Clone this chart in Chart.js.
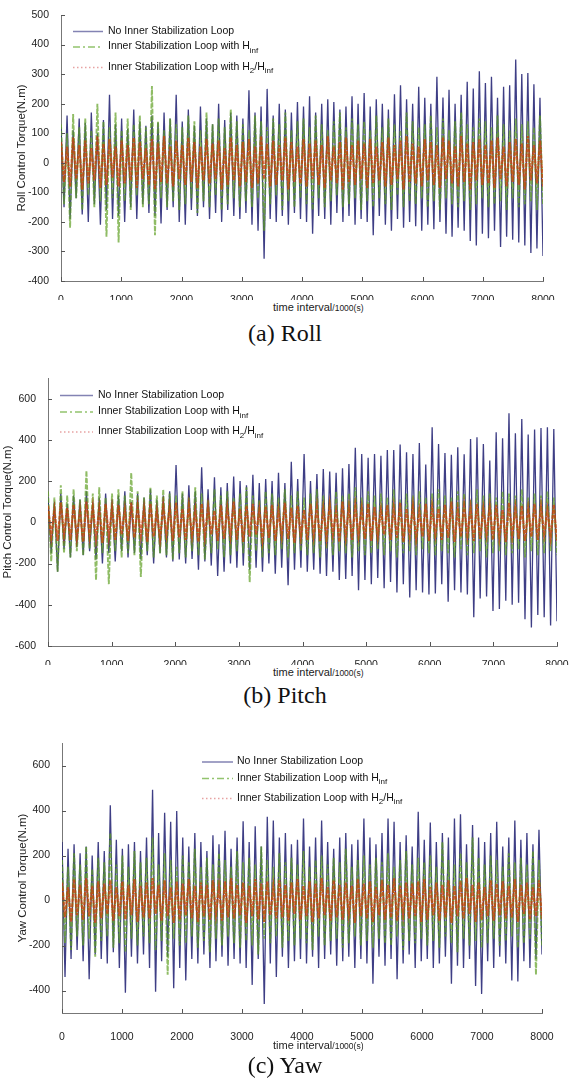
<!DOCTYPE html>
<html>
<head>
<meta charset="utf-8">
<script src="https://cdn.jsdelivr.net/npm/chart.js@4.4.1/dist/chart.umd.min.js"></script>
<style>
  html, body { margin:0; padding:0; background:#fff; }
  body { width:580px; height:1080px; position:relative; overflow:hidden; font-family:"Liberation Sans", Arial, sans-serif; }
  canvas { position:absolute; left:0; }
  .xt { position:absolute; left:273px; font-size:11px; line-height:14px; color:#222; white-space:nowrap; }
  .xt span { font-size:8.5px; }
  .cap { position:absolute; left:0; width:570px; text-align:center; font-family:"Liberation Serif", "Times New Roman", serif; font-size:24px; line-height:28px; color:#111; }
</style>
</head>
<body>
<canvas id="roll" width="580" height="300" style="top:0px"></canvas>
<canvas id="pitch" width="580" height="315" style="top:350px"></canvas>
<canvas id="yaw" width="580" height="330" style="top:720px"></canvas>

<div class="xt" style="top:300px">time interval<span>/1000(s)</span></div>
<div class="xt" style="top:665px">time interval<span>/1000(s)</span></div>
<div class="xt" style="top:1038px">time interval<span>/1000(s)</span></div>
<div class="cap" style="top:319px">(a) Roll</div>
<div class="cap" style="top:681px">(b) Pitch</div>
<div class="cap" style="top:1051px">(c) Yaw</div>

<script>
// ---- axis ticks ----
const xTicks = [0,1000,2000,3000,4000,5000,6000,7000,8000];
const rollTicks = [-400,-300,-200,-100,0,100,200,300,400,500];
const pitchTicks = [-600,-400,-200,0,200,400,600];
const yawTicks = [-400,-200,0,200,400,600];

// ---- legend labels (text, subscript flag) ----
const legendLabels = [
  [['No Inner Stabilization Loop']],
  [['Inner Stabilization Loop with H'], ['inf', 1]],
  [['Inner Stabilization Loop with H'], ['2', 1], ['/H'], ['inf', 1]]
];

// ---- signal extremes: one upper and one lower peak per ~100 samples ----
// (a) Roll
const rollBlueHi = [
  120,160,110,150,135,170,100,145,230,130,
  150,115,180,140,125,160,135,170,150,230,
  140,180,125,190,150,130,200,145,170,160,
  150,245,170,190,250,160,200,180,170,206,
  190,225,170,200,215,206,180,190,225,200,
  236,190,215,200,180,232,262,215,200,257,
  220,200,291,221,247,200,230,274,251,310,
  270,291,220,257,262,349,300,304,266,220];
const rollBlueLo = [
  -150,-190,-120,-175,-200,-140,-210,-160,-190,-180,
  -200,-150,-190,-140,-170,-180,-205,-160,-150,-200,
  -210,-160,-180,-150,-190,-170,-200,-160,-180,-190,
  -170,-210,-230,-325,-190,-200,-180,-210,-170,-190,
  -200,-240,-180,-190,-210,-170,-200,-180,-210,-190,
  -200,-245,-180,-210,-230,-190,-220,-200,-215,-230,
  -210,-225,-200,-240,-250,-220,-230,-265,-280,-240,
  -255,-230,-285,-250,-260,-270,-280,-305,-290,-315];
const rollGreenHi = [
  130,100,165,120,150,110,200,140,120,170,
  110,150,130,160,120,260,140,110,150,130,
  120,160,140,110,170,130,150,120,180,140,
  130,110,160,140,120,150,130,170,110,140,
  150,120,160,130,110,140,170,120,150,130,
  140,110,160,120,150,130,110,170,140,120,
  130,160,120,150,110,140,170,130,120,150,
  140,120,160,130,110,150,130,140,120,160];
const rollGreenLo = [
  -140,-220,-120,-160,-110,-150,-130,-250,-120,-270,
  -130,-160,-110,-150,-140,-245,-120,-150,-130,-160,
  -140,-120,-170,-130,-150,-110,-160,-140,-120,-150,
  -130,-150,-120,-230,-140,-110,-160,-130,-150,-120,
  -140,-160,-120,-150,-130,-110,-150,-140,-120,-160,
  -130,-150,-120,-140,-160,-110,-150,-130,-140,-120,
  -150,-130,-160,-120,-140,-150,-130,-160,-140,-120,
  -150,-140,-130,-160,-120,-150,-140,-130,-160,-140];
const rollRedHi = [
  70,55,85,60,75,50,90,65,80,55,
  75,60,85,70,50,80,65,90,55,75,
  60,85,70,55,80,65,75,50,85,60,
  70,80,55,90,65,75,60,85,70,55,
  80,65,75,60,90,55,70,85,60,75,
  65,80,55,70,85,60,75,90,65,55,
  80,70,60,85,75,55,90,65,70,80,
  60,75,85,55,70,80,65,90,60,75];
const rollRedLo = [
  -65,-80,-55,-90,-70,-60,-85,-75,-50,-80,
  -70,-60,-85,-55,-75,-90,-65,-70,-80,-55,
  -75,-65,-85,-60,-70,-55,-90,-75,-60,-80,
  -65,-85,-70,-55,-80,-75,-60,-90,-65,-70,
  -80,-55,-75,-85,-60,-70,-90,-65,-75,-55,
  -85,-70,-60,-80,-75,-55,-90,-65,-70,-80,
  -60,-75,-85,-55,-70,-80,-65,-90,-60,-75,
  -70,-85,-55,-80,-65,-75,-90,-60,-70,-80];

// (b) Pitch
const pitchBlueHi = [
  120,100,140,90,130,110,150,100,120,140,
  110,130,150,100,140,120,160,110,130,150,
  278,140,180,150,267,160,218,170,190,222,
  200,180,230,190,210,200,240,190,294,210,
  331,200,234,259,246,240,262,283,361,331,
  313,331,323,351,351,377,340,331,385,280,
  461,380,336,328,364,330,404,412,380,300,
  437,408,529,432,501,426,450,457,461,453];
const pitchBlueLo = [
  -150,-240,-130,-170,-120,-160,-140,-180,-200,-150,
  -190,-140,-170,-150,-180,-160,-200,-150,-170,-190,
  -180,-200,-178,-230,-190,-210,-260,-240,-200,-220,
  -210,-230,-220,-240,-200,-250,-220,-305,-230,-220,
  -240,-230,-250,-260,-240,-280,-275,-260,-330,-280,
  -300,-270,-320,-290,-340,-300,-365,-330,-340,-350,
  -345,-300,-385,-330,-340,-350,-460,-370,-360,-430,
  -420,-380,-400,-390,-470,-510,-450,-460,-500,-480];
const pitchGreenHi = [
  150,120,180,130,160,110,250,140,170,120,
  140,160,130,240,150,120,170,130,160,140,
  130,150,120,170,140,110,160,130,150,120,
  140,170,130,110,150,140,120,160,130,150,
  120,140,160,130,110,150,130,140,170,120,
  150,130,140,120,160,110,140,130,150,120,
  140,160,130,120,150,140,110,160,130,140,
  120,150,140,130,160,120,140,130,150,120];
const pitchGreenLo = [
  -190,-240,-150,-170,-140,-160,-130,-280,-150,-300,
  -140,-170,-150,-160,-265,-140,-170,-150,-160,-180,
  -150,-170,-140,-160,-180,-150,-130,-170,-160,-140,
  -150,-290,-140,-170,-150,-160,-130,-170,-150,-140,
  -160,-150,-170,-130,-160,-140,-150,-170,-140,-160,
  -150,-130,-160,-140,-170,-150,-140,-160,-130,-150,
  -160,-140,-150,-170,-130,-160,-150,-140,-170,-150,
  -140,-160,-150,-130,-170,-140,-160,-150,-140,-160];
const pitchRedHi = [
  80,60,95,70,85,55,100,75,65,90,
  70,85,60,95,75,65,90,55,80,70,
  95,65,80,60,90,75,55,85,70,100,
  65,80,90,60,75,85,55,95,70,80,
  60,90,75,65,85,55,100,70,80,65,
  90,75,60,85,70,95,65,80,55,90,
  75,65,85,100,60,80,70,90,65,75,
  85,60,95,70,80,65,90,75,60,85];
const pitchRedLo = [
  -70,-90,-60,-85,-75,-95,-65,-80,-100,-70,
  -85,-60,-90,-75,-65,-95,-70,-80,-60,-90,
  -75,-85,-65,-95,-70,-60,-90,-80,-65,-85,
  -95,-70,-60,-85,-75,-90,-65,-80,-100,-70,
  -85,-65,-90,-75,-60,-95,-70,-85,-65,-80,
  -90,-70,-60,-85,-75,-95,-65,-80,-70,-90,
  -60,-85,-75,-95,-70,-65,-90,-80,-60,-85,
  -75,-95,-65,-80,-90,-70,-85,-60,-75,-90];

// (c) Yaw
const yawBlueHi = [
  260,230,250,210,240,200,260,220,423,270,
  230,250,260,220,280,492,300,390,350,398,
  280,240,300,260,220,290,250,310,230,280,
  352,260,330,240,372,355,280,300,250,270,
  364,240,280,355,260,230,280,300,250,270,
  364,280,250,300,364,350,260,290,240,394,
  270,347,260,300,280,364,383,250,335,280,
  260,300,350,240,280,355,270,300,250,314];
const yawBlueLo = [
  -340,-260,-220,-270,-350,-240,-260,-280,-230,-300,
  -410,-250,-280,-240,-300,-405,-270,-250,-390,-300,
  -355,-260,-280,-240,-300,-270,-250,-290,-260,-280,
  -300,-375,-260,-460,-280,-340,-250,-300,-270,-260,
  -280,-250,-300,-260,-240,-290,-270,-250,-300,-260,
  -280,-370,-250,-290,-260,-350,-280,-240,-300,-270,
  -260,-300,-280,-250,-370,-290,-300,-260,-380,-415,
  -270,-300,-250,-280,-355,-360,-270,-300,-260,-240];
const yawGreenHi = [
  180,150,210,160,240,140,190,170,300,160,
  200,150,220,170,190,280,160,210,180,150,
  200,170,230,150,190,160,210,180,150,220,
  170,190,160,240,180,150,210,170,190,160,
  220,150,180,200,160,190,170,230,150,180,
  200,160,190,170,210,150,180,220,160,190,
  170,200,150,260,180,160,210,170,280,190,
  160,200,180,150,210,170,190,160,220,180];
const yawGreenLo = [
  -190,-220,-160,-200,-170,-250,-180,-160,-210,-190,
  -230,-170,-200,-160,-190,-220,-180,-330,-170,-200,
  -190,-160,-210,-180,-230,-170,-200,-160,-190,-210,
  -180,-200,-240,-170,-190,-160,-210,-180,-200,-170,
  -190,-220,-160,-200,-180,-170,-210,-190,-160,-200,
  -180,-210,-170,-190,-200,-160,-220,-180,-190,-170,
  -200,-180,-210,-160,-190,-230,-170,-200,-180,-210,
  -190,-170,-200,-180,-160,-210,-190,-170,-330,-200];
const yawRedHi = [
  80,60,95,70,100,65,85,75,90,60,
  85,70,95,65,80,100,70,90,60,85,
  75,95,65,80,70,90,60,85,100,70,
  80,65,95,75,85,60,90,70,80,95,
  65,85,75,100,60,90,70,80,65,95,
  75,85,60,90,70,100,65,80,75,85,
  95,60,80,70,90,65,85,100,70,80,
  60,90,75,85,65,95,70,80,60,90];
const yawRedLo = [
  -75,-95,-65,-85,-70,-100,-80,-60,-90,-70,
  -85,-65,-95,-75,-80,-60,-90,-70,-100,-85,
  -65,-80,-95,-70,-85,-60,-90,-75,-80,-65,
  -100,-70,-85,-95,-65,-80,-75,-90,-60,-85,
  -70,-95,-80,-65,-90,-75,-85,-60,-100,-70,
  -80,-95,-65,-85,-75,-90,-60,-80,-70,-95,
  -85,-65,-90,-75,-100,-70,-80,-60,-95,-85,
  -70,-90,-65,-80,-75,-95,-60,-85,-70,-80];

// place upper/lower peaks alternately along the 0..8000 time axis
function peaks(hi, lo){
  const step = 8000 / (hi.length * 2 - 1);
  const pts = [];
  hi.forEach((v, k) => {
    pts.push({ x: 2*k*step, y: v });
    pts.push({ x: (2*k+1)*step, y: lo[k] });
  });
  return pts;
}

const FONT = '"Liberation Sans", Arial, sans-serif';

// MATLAB-ish inward tick marks
const innerTicks = {
  id: 'innerTicks',
  afterDraw(chart){
    const {ctx, chartArea:a, scales:{x, y}} = chart;
    ctx.save();
    ctx.strokeStyle = '#555';
    ctx.lineWidth = 1;
    ctx.beginPath();
    x.ticks.forEach(t => {
      const px = Math.round(x.getPixelForValue(t.value)) + 0.5;
      ctx.moveTo(px, a.bottom); ctx.lineTo(px, a.bottom - 4);
    });
    y.ticks.forEach(t => {
      const py = Math.round(y.getPixelForValue(t.value)) + 0.5;
      ctx.moveTo(a.left, py); ctx.lineTo(a.left + 4, py);
    });
    ctx.stroke();
    ctx.restore();
  }
};

// legend drawn inside the axes, with sub-scripts
const innerLegend = {
  id: 'innerLegend',
  afterDraw(chart, args, o){
    const ctx = chart.ctx;
    const styles = [
      { c:'#8383b3', d:[] },
      { c:'#92c46e', d:[7,3,2,3] },
      { c:'#e7a2a2', d:[1.5,2.5] }
    ];
    ctx.save();
    legendLabels.forEach((parts, i) => {
      const y = o.rows[i];
      ctx.strokeStyle = styles[i].c;
      ctx.lineWidth = 1.5;
      ctx.setLineDash(styles[i].d);
      ctx.beginPath();
      ctx.moveTo(o.x0, y + 0.5); ctx.lineTo(o.x1, y + 0.5);
      ctx.stroke();
      ctx.setLineDash([]);
      ctx.fillStyle = '#111';
      ctx.textBaseline = 'middle';
      let tx = o.tx;
      parts.forEach(([s, sub]) => {
        ctx.font = (sub ? '8px ' : '10.5px ') + FONT;
        ctx.fillText(s, tx, sub ? y + 4 : y);
        tx += ctx.measureText(s).width;
      });
    });
    ctx.restore();
  }
};

function makeChart(id, cfg){
  const ticks = cfg.yTicks;
  new Chart(document.getElementById(id), {
    type: 'line',
    data: {
      datasets: [
        { data: peaks(cfg.red[0], cfg.red[1]), borderColor:'rgba(200,65,12,0.78)', borderWidth:2.2, borderDash:[4,0.8], order:1 },
        { data: peaks(cfg.green[0], cfg.green[1]), borderColor:'rgba(95,160,35,0.7)', borderWidth:1.9, borderDash:[5,1.5], order:2 },
        { data: peaks(cfg.blue[0], cfg.blue[1]), borderColor:'rgba(28,28,112,0.85)', borderWidth:1.3, order:3 }
      ]
    },
    options: {
      responsive:false, animation:false, devicePixelRatio:1,
      layout:{ padding:{ top:cfg.top, right:cfg.right, left:0, bottom:0 } },
      elements:{ point:{ radius:0 }, line:{ tension:0 } },
      plugins:{ legend:{ display:false }, tooltip:{ enabled:false }, innerLegend:cfg.legend },
      scales:{
        x:{
          type:'linear', min:0, max:8000,
          afterBuildTicks: s => { s.ticks = xTicks.map(v => ({ value:v })); },
          afterFit: s => { s.height = cfg.xH; },
          grid:{ display:false },
          border:{ display:true, color:'#777', width:1 },
          ticks:{ padding:cfg.xPad, color:'#222', font:{ family:FONT, size:10.5 }, maxRotation:0, callback:v => String(v) }
        },
        y:{
          min:cfg.yMin, max:cfg.yMax,
          afterBuildTicks: s => { s.ticks = ticks.map(v => ({ value:v })); },
          afterFit: s => { s.width = cfg.left; },
          grid:{ display:false },
          border:{ display:true, color:'#777', width:1 },
          ticks:{ padding:4, color:'#222', font:{ family:FONT, size:10.5 }, callback:v => String(v) },
          title:{ display:true, text:cfg.title, color:'#222', font:{ family:FONT, size:11.5 }, padding:{ top:cfg.titlePad, bottom:0 } }
        }
      }
    },
    plugins:[innerTicks, innerLegend]
  });
}

makeChart('roll', {
  blue:[rollBlueHi, rollBlueLo], green:[rollGreenHi, rollGreenLo], red:[rollRedHi, rollRedLo],
  yMin:-400, yMax:500, yTicks:rollTicks, title:'Roll Control Torque(N.m)',
  left:61, right:37, top:15, xH:19, xPad:5, titlePad:15,
  legend:{ x0:73, x1:103, tx:108, rows:[31, 46.5, 67] }
});
makeChart('pitch', {
  blue:[pitchBlueHi, pitchBlueLo], green:[pitchGreenHi, pitchGreenLo], red:[pitchRedHi, pitchRedLo],
  yMin:-600, yMax:700, yTicks:pitchTicks, title:'Pitch Control Torque(N.m)',
  left:48, right:23, top:28, xH:19, xPad:5, titlePad:0.5,
  legend:{ x0:60, x1:93, tx:98, rows:[45, 61.5, 81.5] }
});
makeChart('yaw', {
  blue:[yawBlueHi, yawBlueLo], green:[yawGreenHi, yawGreenLo], red:[yawRedHi, yawRedLo],
  yMin:-500, yMax:700, yTicks:yawTicks, title:'Yaw Control Torque(N.m)',
  left:62, right:38, top:23, xH:37, xPad:10, titlePad:16,
  legend:{ x0:202, x1:233, tx:237, rows:[41.5, 58, 78] }
});
</script>
</body>
</html>
